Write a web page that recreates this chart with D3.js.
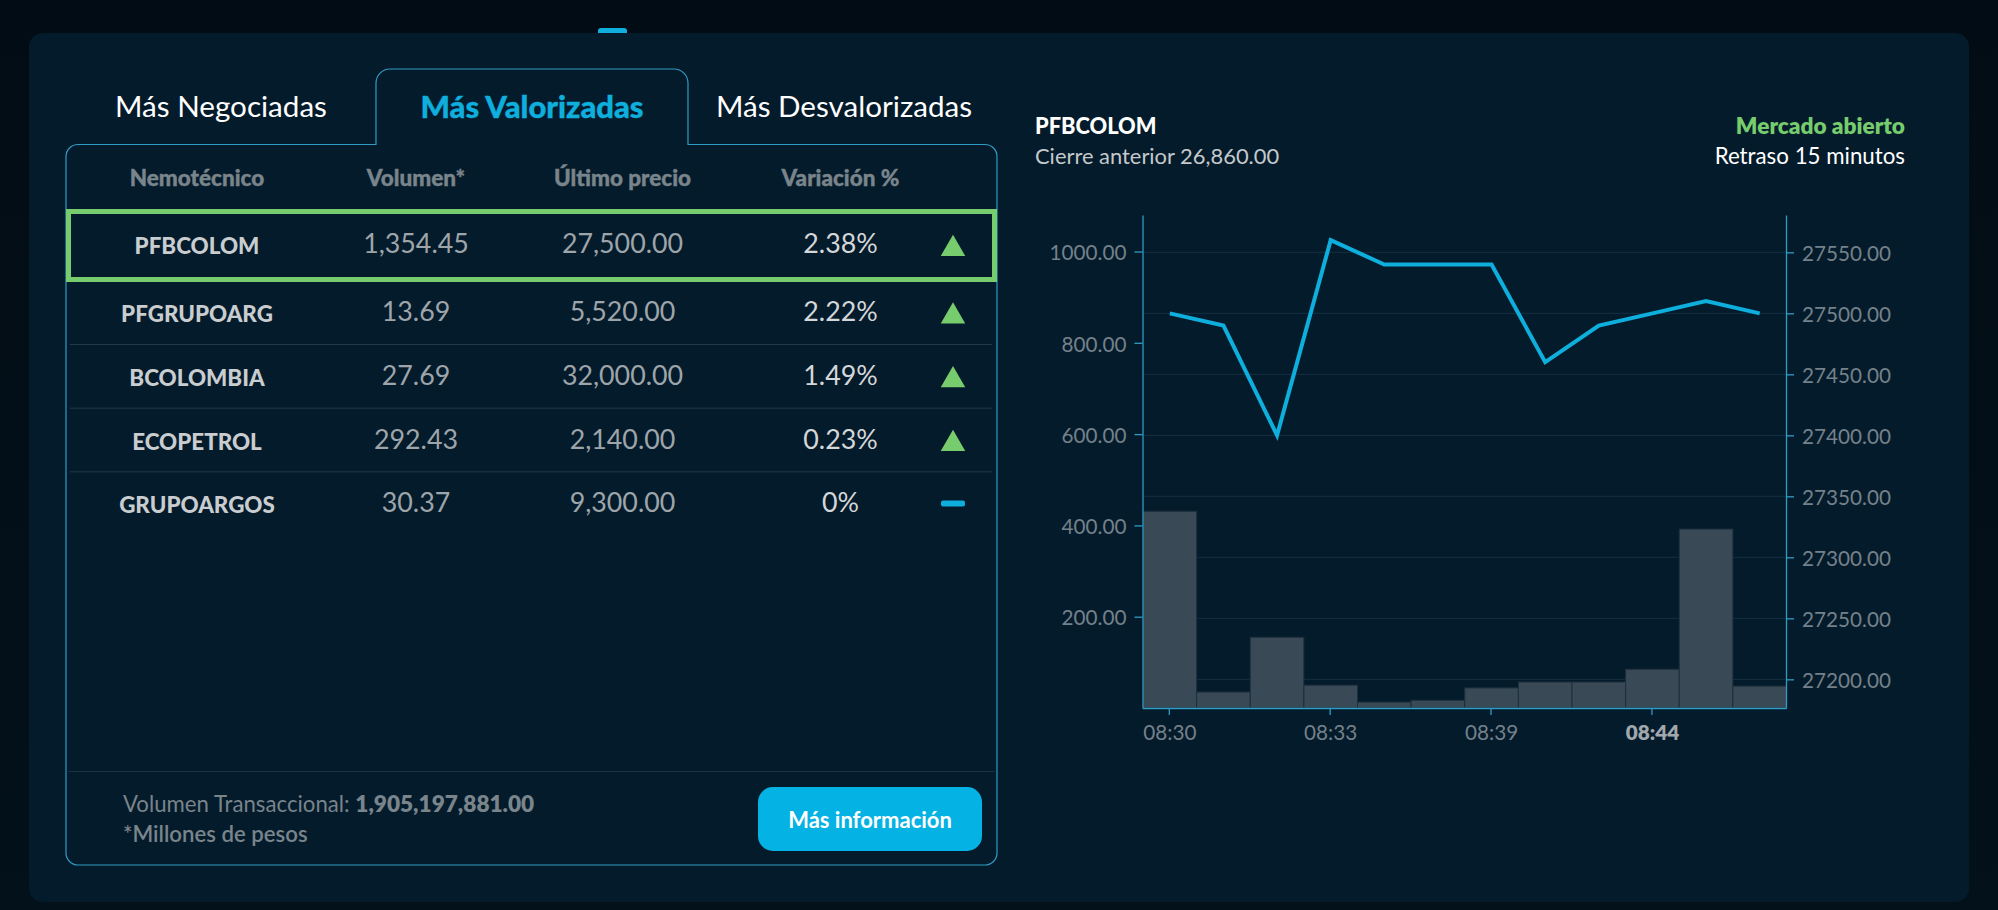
<!DOCTYPE html>
<html>
<head>
<meta charset="utf-8">
<title>Acciones</title>
<script src="https://cdn.jsdelivr.net/npm/d3@7/dist/d3.min.js"></script>
<style>
  html, body { margin: 0; padding: 0; background: #020e17; overflow: hidden; }
  svg { display: block; font-family: Lato, "Noto Sans", sans-serif; }
  .axis .domain { stroke: #2f9cc4; stroke-width: 1.3; }
  .axis .tick line { stroke: #2f9cc4; stroke-width: 1.3; }
  .axis .tick text { fill: #75818a; font-size: 20.7px; font-family: Lato, sans-serif; }
  .heavy { stroke-width: 0.4px; paint-order: stroke; }
</style>
</head>
<body>
<div id="chart"></div>
<script>
// tabla
var tabs = ["Más Negociadas", "Más Valorizadas", "Más Desvalorizadas"];
var headers = ["Nemotécnico", "Volumen*", "Último precio", "Variación %"];
var names = ["PFBCOLOM", "PFGRUPOARG", "BCOLOMBIA", "ECOPETROL", "GRUPOARGOS"];
var volumes = ["1,354.45", "13.69", "27.69", "292.43", "30.37"];
var prices = ["27,500.00", "5,520.00", "32,000.00", "2,140.00", "9,300.00"];
var variations = ["2.38%", "2.22%", "1.49%", "0.23%", "0%"];
var trends = ["up", "up", "up", "up", "flat"];

// grafica
var times = ["08:30", "08:31", "08:32", "08:33", "08:35", "08:37", "08:39", "08:40", "08:42", "08:44", "08:45", "08:46"];
var shownTimes = ["08:30", "08:33", "08:39", "08:44"];
var volumeBars = [431, 35, 155, 50, 13, 17, 44, 57, 57, 85, 392, 48];
var closePrices = [27500, 27490, 27400, 27560, 27540, 27540, 27540, 27460, 27490, 27500, 27510, 27500];
var volumeTicks = [200, 400, 600, 800, 1000];
var priceTicks = [27200, 27250, 27300, 27350, 27400, 27450, 27500, 27550];

var width = 1998, height = 910;
var lineBlue = "#2f9cc4", accent = "#0eaedd", green = "#77cc6d";

var svg = d3.select("#chart").append("svg")
  .attr("width", width)
  .attr("height", height);

// fondo y panel
var defs = svg.append("defs");
var bg = defs.append("linearGradient").attr("id", "bgGrad").attr("x1", 0).attr("x2", 0).attr("y1", 0).attr("y2", 1);
bg.append("stop").attr("offset", "0%").attr("stop-color", "#020c14");
bg.append("stop").attr("offset", "100%").attr("stop-color", "#03111b");
svg.append("rect").attr("width", width).attr("height", height).attr("fill", "url(#bgGrad)");

svg.append("path")
  .attr("d", "M598,33 v-2 q0,-3 3,-3 h23 q3,0 3,3 v2 z")
  .attr("fill", accent);

svg.append("rect")
  .attr("x", 29).attr("y", 33).attr("width", 1940).attr("height", 869)
  .attr("rx", 14)
  .attr("fill", "#041b2b");

// caja de la tabla con la pestaña activa
svg.append("path")
  .attr("d", "M78,144.5 H376 V83 a14,14 0 0 1 14,-14 H674 a14,14 0 0 1 14,14 V144.5 H985 a12,12 0 0 1 12,12 V853 a12,12 0 0 1 -12,12 H78 a12,12 0 0 1 -12,-12 V156.5 a12,12 0 0 1 12,-12 z")
  .attr("fill", "none")
  .attr("stroke", lineBlue)
  .attr("stroke-width", 1.2);

var tabX = d3.scaleOrdinal().domain(tabs).range([221, 532, 844]);
svg.selectAll(".tab")
  .data(tabs)
  .enter().append("text")
  .attr("class", function(d, i) { return i == 1 ? "tab heavy" : "tab"; })
  .attr("x", function(d) { return tabX(d); })
  .attr("y", 107)
  .attr("dy", ".35em")
  .attr("text-anchor", "middle")
  .attr("font-size", function(d, i) { return i == 1 ? 31 : 29.6; })
  .attr("font-weight", function(d, i) { return i == 1 ? 900 : 400; })
  .attr("fill", function(d, i) { return i == 1 ? accent : "#ffffff"; })
  .attr("stroke", function(d, i) { return i == 1 ? accent : "none"; })
  .text(function(d) { return d; });

var colX = d3.scaleOrdinal().domain(headers).range([197, 416, 622.5, 840.5]);
svg.selectAll(".head")
  .data(headers)
  .enter().append("text")
  .attr("class", "head heavy")
  .attr("x", function(d) { return colX(d); })
  .attr("y", 178)
  .attr("dy", ".35em")
  .attr("text-anchor", "middle")
  .attr("font-size", 22.5)
  .attr("font-weight", 900)
  .attr("fill", "#79848b")
  .attr("stroke", "#79848b")
  .text(function(d) { return d; });

// filas
var rowY = d3.scaleLinear().domain([1, 4]).range([312, 503]);
var rows = d3.range(names.length);

svg.selectAll(".sep")
  .data(rows.slice(1, 4))
  .enter().append("line")
  .attr("class", "sep")
  .attr("x1", 70).attr("x2", 992)
  .attr("y1", function(d) { return rowY(d) + 32.5; })
  .attr("y2", function(d) { return rowY(d) + 32.5; })
  .attr("stroke", "#213a4a")
  .attr("stroke-width", 1);

svg.append("rect")
  .attr("x", 68.5).attr("y", 211.5).attr("width", 926).attr("height", 68)
  .attr("fill", "none")
  .attr("stroke", green)
  .attr("stroke-width", 5);

function cell(list, col, size, weight, color, shift) {
  svg.selectAll(".c" + col)
    .data(list)
    .enter().append("text")
    .attr("class", "c" + col)
    .attr("x", colX(headers[col]))
    .attr("y", function(d, i) { return rowY(i) + (i == 0 ? -4.5 : 0) + shift; })
    .attr("dy", ".35em")
    .attr("text-anchor", "middle")
    .attr("font-size", size)
    .attr("font-weight", weight)
    .attr("fill", color)
    .text(function(d) { return d; });
}
cell(names, 0, 22.4, 900, "#c9cdd0", 2.5);
cell(volumes, 1, 26.8, 400, "#9ea5aa", 0);
cell(prices, 2, 26.8, 400, "#9ea5aa", 0);
cell(variations, 3, 26.8, 400, "#d4d7d9", 0);

var triangle = d3.symbol().type(d3.symbolTriangle).size(260);
svg.selectAll(".trend")
  .data(trends)
  .enter().append(function(d) {
    return document.createElementNS("http://www.w3.org/2000/svg", d == "up" ? "path" : "rect");
  })
  .attr("class", "trend")
  .each(function(d, i) {
    var el = d3.select(this);
    if (d == "up") {
      el.attr("d", triangle)
        .attr("transform", "translate(953," + (rowY(i) + (i == 0 ? 0.5 : 4.5)) + ")")
        .attr("fill", green);
    } else {
      el.attr("x", 941).attr("y", rowY(i) - 2.5).attr("width", 24).attr("height", 6)
        .attr("rx", 2)
        .attr("fill", accent);
    }
  });

// pie de la tabla
svg.append("line")
  .attr("x1", 68).attr("x2", 995)
  .attr("y1", 771.5).attr("y2", 771.5)
  .attr("stroke", "#1a3142");

var foot = svg.append("text").attr("x", 123).attr("y", 804).attr("dy", ".35em")
  .attr("font-size", 22.2).attr("fill", "#79848b");
foot.append("tspan").text("Volumen Transaccional: ");
foot.append("tspan").attr("font-weight", 800).attr("font-size", 22.6).text("1,905,197,881.00");

svg.append("text").attr("x", 123).attr("y", 834).attr("dy", ".35em")
  .attr("font-size", 22.2).attr("font-weight", 600).attr("fill", "#79848b")
  .text("*Millones de pesos");

svg.append("rect")
  .attr("x", 758).attr("y", 787).attr("width", 224).attr("height", 64)
  .attr("rx", 15)
  .attr("fill", "#04b2e3");
svg.append("text").attr("x", 870).attr("y", 820).attr("dy", ".35em")
  .attr("text-anchor", "middle")
  .attr("font-size", 22).attr("font-weight", 700).attr("fill", "#ffffff")
  .text("Más información");

// encabezado de la grafica
svg.append("text").attr("x", 1035).attr("y", 126.5).attr("dy", ".35em")
  .attr("font-size", 21.8).attr("font-weight", 900).attr("fill", "#ffffff").text("PFBCOLOM");
svg.append("text").attr("x", 1035).attr("y", 156.5).attr("dy", ".35em")
  .attr("font-size", 21.9).attr("fill", "#c4c9cc").text("Cierre anterior 26,860.00");
svg.append("text").attr("x", 1905).attr("y", 126.5).attr("dy", ".35em").attr("text-anchor", "end")
  .attr("font-size", 22.6).attr("font-weight", 800).attr("fill", green).text("Mercado abierto");
svg.append("text").attr("x", 1905).attr("y", 156.5).attr("dy", ".35em").attr("text-anchor", "end")
  .attr("font-size", 22.3).attr("fill", "#ffffff").text("Retraso 15 minutos");

// grafica
var plot = { left: 1142.5, right: 1786, top: 215, bottom: 708 };

var x = d3.scaleBand().domain(times).range([plot.left, plot.right]);
var yVolume = d3.scaleLinear().domain([0, 1080]).range([plot.bottom, plot.top]);
var yPrice = d3.scaleLinear().domain([27176.5, 27580.6]).range([plot.bottom, plot.top]);

// lineas de cuadricula
svg.selectAll(".grid")
  .data(priceTicks)
  .enter().append("line")
  .attr("class", "grid")
  .attr("x1", plot.left).attr("x2", plot.right)
  .attr("y1", function(d) { return yPrice(d); })
  .attr("y2", function(d) { return yPrice(d); })
  .attr("stroke", "#143042")
  .attr("stroke-width", 1);

svg.selectAll(".bar")
  .data(volumeBars)
  .enter().append("rect")
  .attr("class", "bar")
  .attr("x", function(d, i) { return x(times[i]) + 0.5; })
  .attr("y", function(d) { return yVolume(d); })
  .attr("width", x.bandwidth())
  .attr("height", function(d) { return plot.bottom - yVolume(d); })
  .attr("fill", "#394a56")
  .attr("stroke", "#1d2f3d")
  .attr("stroke-width", 1);

var line = d3.line()
  .x(function(d, i) { return x(times[i]) + x.bandwidth() / 2 + 0.5; })
  .y(function(d) { return yPrice(d); });

svg.append("path")
  .datum(closePrices)
  .attr("d", line)
  .attr("fill", "none")
  .attr("stroke", accent)
  .attr("stroke-width", 4);

svg.append("g")
  .attr("class", "axis")
  .attr("transform", "translate(" + plot.left + ",0)")
  .call(d3.axisLeft(yVolume).tickValues(volumeTicks).tickFormat(d3.format(".2f")).tickSize(8).tickSizeOuter(0).tickPadding(8));

svg.append("g")
  .attr("class", "axis")
  .attr("transform", "translate(" + plot.right + ",0)")
  .call(d3.axisRight(yPrice).tickValues(priceTicks).tickFormat(d3.format(".2f")).tickSize(8).tickSizeOuter(0).tickPadding(8));

svg.selectAll(".axis .tick text").attr("dy", "0.4em");

var xAxis = svg.append("g")
  .attr("class", "axis")
  .attr("transform", "translate(0," + plot.bottom + ")")
  .call(d3.axisBottom(x).tickValues(shownTimes).tickSize(7).tickSizeOuter(0).tickPadding(10));

xAxis.selectAll(".tick text")
  .attr("dx", "0.5")
  .style("fill", function(d) { return d == "08:44" ? "#a0a8ad" : "#75818a"; })
  .style("font-weight", function(d) { return d == "08:44" ? 800 : 400; });
</script>
</body>
</html>
